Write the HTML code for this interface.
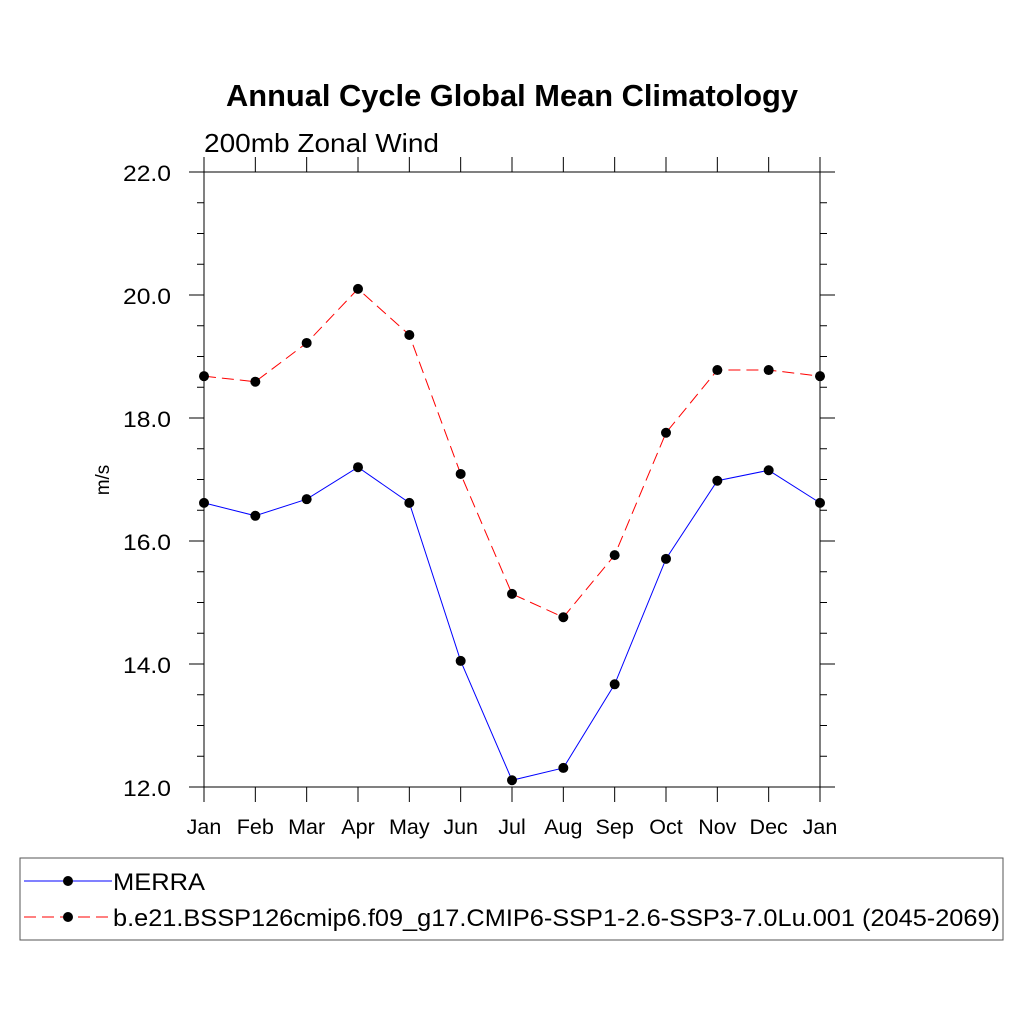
<!DOCTYPE html>
<html><head><meta charset="utf-8"><style>
body{margin:0;background:#fff;}
svg text{font-family:"Liberation Sans",sans-serif;}
</style></head><body>
<svg id="chart" width="1024" height="1024" viewBox="0 0 1024 1024" xmlns="http://www.w3.org/2000/svg">
<rect width="1024" height="1024" fill="#fff"/>
<text x="226" y="106" font-size="31" font-weight="bold" textLength="572" lengthAdjust="spacingAndGlyphs">Annual Cycle Global Mean Climatology</text>
<text x="204" y="152" font-size="26" textLength="235" lengthAdjust="spacingAndGlyphs">200mb Zonal Wind</text>
<text transform="translate(109,480) rotate(-90)" text-anchor="middle" font-size="19">m/s</text>
<g id="axes"></g>
<g id="series"></g>
<rect x="20" y="858" width="983" height="82" fill="none" stroke="#555" stroke-width="1"/>
<g id="legend"></g>
</svg>
<script>
const months=["Jan","Feb","Mar","Apr","May","Jun","Jul","Aug","Sep","Oct","Nov","Dec","Jan"];
const merra=[16.62,16.41,16.68,17.2,16.62,14.05,12.11,12.31,13.67,15.71,16.98,17.15,16.62];
const cesm=[18.68,18.59,19.22,20.1,19.35,17.09,15.14,14.76,15.77,17.76,18.78,18.78,18.68];
const yTicks=[12,14,16,18,20,22];
const seriesNames=["MERRA","b.e21.BSSP126cmip6.f09_g17.CMIP6-SSP1-2.6-SSP3-7.0Lu.001 (2045-2069)"];
const NS="http://www.w3.org/2000/svg";
const X0=204,X1=820,Y0=787,Y1=172,YMIN=12,YMAX=22;
const xs=i=>X0+i*(X1-X0)/(months.length-1);
const ys=v=>Y0-(v-YMIN)*(Y0-Y1)/(YMAX-YMIN);
function mk(tag,attrs,parent){const e=document.createElementNS(NS,tag);for(const k in attrs)e.setAttribute(k,attrs[k]);parent.appendChild(e);return e;}
const ax=document.getElementById('axes');
let frame=mk('rect',{x:X0,y:Y1,width:X1-X0,height:Y0-Y1,fill:'none',stroke:'#000','stroke-width':1},ax);


months.forEach((m,i)=>{
  const x=xs(i);
  mk('line',{x1:x,x2:x,y1:Y0,y2:Y0+15,stroke:'#000'},ax);
  mk('line',{x1:x,x2:x,y1:Y1,y2:Y1-15,stroke:'#000'},ax);
  const t=mk('text',{x:x,y:834,'text-anchor':'middle','font-size':21.5},ax);
  t.textContent=m;
  
  
});
for(let v=YMIN;v<=YMAX+0.001;v+=0.5){
  const y=ys(v);const major=Math.abs(v-Math.round(v/2)*2)<0.001;
  const L=major?15:7;
  mk('line',{x1:X0-L,x2:X0,y1:y,y2:y,stroke:'#000'},ax);
  mk('line',{x1:X1,x2:X1+L,y1:y,y2:y,stroke:'#000'},ax);
}
yTicks.forEach(v=>{
  const t=mk('text',{x:123,y:ys(v)+9,'font-size':22,textLength:48,lengthAdjust:'spacingAndGlyphs'},ax);
  t.textContent=v.toFixed(1);
  
  
});
const sg=document.getElementById('series');
function drawSeries(vals,color,dash,name){
  const g=mk('g',{},sg);
  
  
  const pts=vals.map((v,i)=>xs(i)+','+ys(v)).join(' ');
  const pl=mk('polyline',{points:pts,fill:'none',stroke:color,'stroke-width':1,'stroke-dasharray':dash},g);
  
  
  vals.forEach((v,i)=>{
    const c=mk('circle',{cx:xs(i),cy:ys(v),r:5,fill:'#000'},g);
    
    
  });
}
drawSeries(merra,'#0000ff','none','merra-series');
drawSeries(cesm,'#ff0000','12,6','cesm-series');
const lg=document.getElementById('legend');
const legY=[881,917],colors=['#0000ff','#ff0000'],dashes=['none','12,6'],legW=[92,887];
seriesNames.forEach((n,i)=>{
  const g=mk('g',{},lg);
  
  
  mk('line',{x1:24,x2:112,y1:legY[i],y2:legY[i],stroke:colors[i],'stroke-dasharray':dashes[i]},g);
  mk('circle',{cx:68,cy:legY[i],r:5,fill:'#000'},g);
  const t=mk('text',{x:113,y:legY[i]+9,'font-size':24,textLength:legW[i],lengthAdjust:'spacingAndGlyphs'},g);
  t.textContent=n;
});
</script>
</body></html>
